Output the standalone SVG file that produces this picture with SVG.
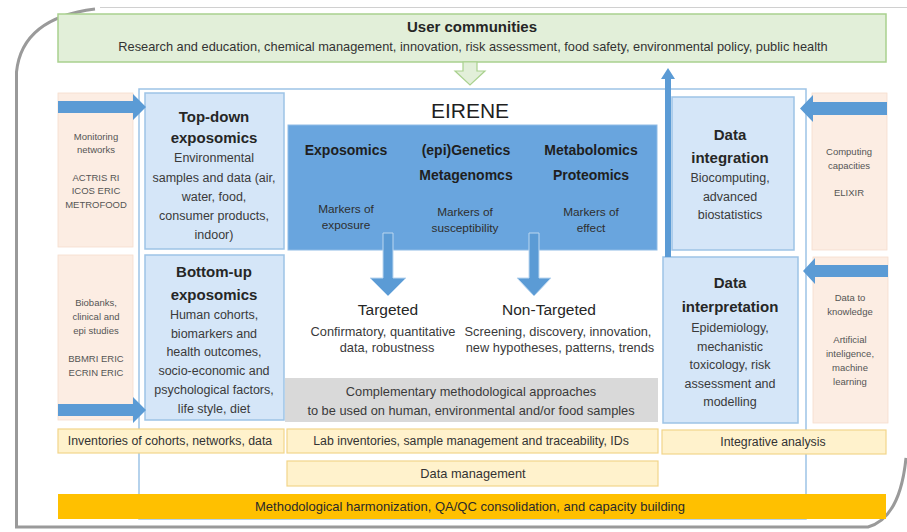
<svg xmlns="http://www.w3.org/2000/svg" width="907" height="532" viewBox="0 0 907 532">
<style>
text{font-family:"Liberation Sans",Arial,sans-serif;fill:#262626;text-anchor:middle}
.peach{fill:#fcede3;stroke:#f6ddcc;stroke-width:0.8}
.lblue{fill:#d5e6f8;stroke:#9dc3e6;stroke-width:1.5}
.yel{fill:#fff2cc;stroke:#f2d58a;stroke-width:1.2}
.arr{fill:#5b9bd5}
.arrc{fill:#5b9bd5;stroke:#bcd7f0;stroke-width:1}
.ttl{font-size:15px;font-weight:bold}
.body{font-size:12.5px;fill:#3a3a3a}
.body2{font-size:12.8px;fill:#3a3a3a}
.pt{font-size:9.5px;fill:#555}
.hd{font-size:14px;font-weight:bold;fill:#1f1f1f}
.mk{font-size:11.8px;fill:#2e2e2e}
.yt{font-size:12.3px;fill:#333}
</style>
<rect x="0" y="0" width="907" height="532" fill="#ffffff"/>
<g id="page">
<path d="M100 7.5 L907 7.5" fill="none" stroke="#d0d0d0" stroke-width="1"/>
<path d="M95 9 Q22 18 16.5 72 L16.5 527 L868 527 Q900 518 906 458" fill="none" stroke="#9a9a9a" stroke-width="3"/>
</g>
<g id="eirene-frame">
<rect x="139" y="89" width="667" height="430" fill="none" stroke="#9dc3e6" stroke-width="1.5"/>
<text x="470" y="118" style="font-size:21px;fill:#1f1f1f">EIRENE</text>
</g>
<g id="user-communities">
<rect x="58" y="14" width="828" height="48" fill="#e2efd9" stroke="#a9d18e" stroke-width="1.5"/>
<text x="472" y="32" class="ttl" style="font-size:15px">User communities</text>
<text x="473" y="51" style="font-size:12.8px;fill:#333">Research and education, chemical management, innovation, risk assessment, food safety, environmental policy, public health</text>
</g>
<g id="monitoring-networks">
<rect x="58" y="93" width="75" height="154" class="peach"/>
<text class="pt" x="96" y="140">Monitoring</text>
<text class="pt" x="96" y="153">networks</text>
<text class="pt" x="96" y="181">ACTRIS RI</text>
<text class="pt" x="96" y="194">ICOS ERIC</text>
<text class="pt" x="96" y="208">METROFOOD</text>
</g>
<g id="biobanks">
<rect x="58" y="255" width="75" height="165" class="peach"/>
<text class="pt" x="96" y="306">Biobanks,</text>
<text class="pt" x="96" y="320">clinical and</text>
<text class="pt" x="96" y="334">epi studies</text>
<text class="pt" x="96" y="362">BBMRI ERIC</text>
<text class="pt" x="96" y="376">ECRIN ERIC</text>
</g>
<g id="top-down">
<rect x="145" y="93" width="139" height="156" class="lblue"/>
<text class="ttl" x="214" y="122">Top-down</text>
<text class="ttl" x="214" y="143">exposomics</text>
<text class="body" x="214" y="162">Environmental</text>
<text class="body" x="214" y="182">samples and data (air,</text>
<text class="body" x="214" y="201">water, food,</text>
<text class="body" x="214" y="220">consumer products,</text>
<text class="body" x="214" y="239">indoor)</text>
</g>
<g id="bottom-up">
<rect x="145" y="255" width="139" height="165" class="lblue"/>
<text class="ttl" x="214" y="277">Bottom-up</text>
<text class="ttl" x="214" y="300">exposomics</text>
<text class="body" x="214" y="319">Human cohorts,</text>
<text class="body" x="214" y="338">biomarkers and</text>
<text class="body" x="214" y="356">health outcomes,</text>
<text class="body" x="214" y="375">socio-economic and</text>
<text class="body" x="214" y="394">psychological factors,</text>
<text class="body" x="214" y="413">life style, diet</text>
</g>
<g id="omics">
<rect x="288" y="125" width="369" height="125" fill="#69a5de" stroke="#8fbbe6" stroke-width="1"/>
<text class="hd" x="346" y="155">Exposomics</text>
<text class="hd" x="466" y="155">(epi)Genetics</text>
<text class="hd" x="466" y="180">Metagenomcs</text>
<text class="hd" x="591" y="155">Metabolomics</text>
<text class="hd" x="591" y="180">Proteomics</text>
<text class="mk" x="346" y="213">Markers of</text>
<text class="mk" x="346" y="229">exposure</text>
<text class="mk" x="465" y="216">Markers of</text>
<text class="mk" x="465" y="232">susceptibility</text>
<text class="mk" x="591" y="216">Markers of</text>
<text class="mk" x="591" y="232">effect</text>
</g>
<g id="targeted">
<text x="388" y="315" style="font-size:15.5px;fill:#262626">Targeted</text>
<text class="body2" x="383" y="336">Confirmatory, quantitative</text>
<text class="body2" x="387" y="352">data, robustness</text>
</g>
<g id="non-targeted">
<text x="549" y="315" style="font-size:15.5px;fill:#262626">Non-Targeted</text>
<text class="body2" x="558" y="336">Screening, discovery, innovation,</text>
<text class="body2" x="560" y="352">new hypotheses, patterns, trends</text>
</g>
<g id="complementary">
<rect x="285" y="378" width="373" height="44" fill="#d9d9d9"/>
<text class="body2" x="471" y="396">Complementary methodological approaches</text>
<text class="body2" x="471" y="415">to be used on human, environmental and/or food samples</text>
</g>
<g id="data-integration">
<rect x="672" y="97" width="122" height="153" class="lblue"/>
<text class="ttl" x="730" y="140">Data</text>
<text class="ttl" x="730" y="163">integration</text>
<text class="body" x="730" y="182">Biocomputing,</text>
<text class="body" x="730" y="201">advanced</text>
<text class="body" x="730" y="219">biostatistics</text>
</g>
<g id="computing">
<rect x="812" y="93" width="75" height="157" class="peach"/>
<text class="pt" x="849" y="155">Computing</text>
<text class="pt" x="849" y="169">capacities</text>
<text class="pt" x="849" y="196">ELIXIR</text>
</g>
<g id="data-interpretation">
<rect x="663" y="257" width="135" height="166" class="lblue"/>
<text class="ttl" x="730" y="288">Data</text>
<text class="ttl" x="730" y="312">interpretation</text>
<text class="body" x="730" y="332">Epidemiology,</text>
<text class="body" x="730" y="351">mechanistic</text>
<text class="body" x="730" y="369">toxicology, risk</text>
<text class="body" x="730" y="388">assessment and</text>
<text class="body" x="730" y="406">modelling</text>
</g>
<g id="data-to-knowledge">
<rect x="813" y="257" width="75" height="166" class="peach"/>
<text class="pt" x="850" y="301">Data to</text>
<text class="pt" x="850" y="315">knowledge</text>
<text class="pt" x="850" y="343">Artificial</text>
<text class="pt" x="850" y="357">inteligence,</text>
<text class="pt" x="850" y="371">machine</text>
<text class="pt" x="850" y="385">learning</text>
</g>
<g id="inventories">
<rect x="58" y="429" width="226" height="24" class="yel"/>
<text class="yt" x="170" y="445">Inventories of cohorts, networks, data</text>
</g>
<g id="lab-inventories">
<rect x="287" y="429" width="371" height="24" class="yel"/>
<text class="yt" x="471" y="445">Lab inventories, sample management and traceability, IDs</text>
</g>
<g id="integrative-analysis">
<rect x="662" y="430" width="224" height="24" class="yel"/>
<text class="yt" x="773" y="446">Integrative analysis</text>
</g>
<g id="data-management">
<rect x="287" y="461" width="371" height="25" class="yel"/>
<text class="yt" x="473" y="478" style="font-size:12.8px">Data management</text>
</g>
<g id="harmonization">
<rect x="58" y="494" width="828" height="25" fill="#ffc000"/>
<text x="470" y="511" style="font-size:13px;fill:#2a2a2a">Methodological harmonization, QA/QC consolidation, and capacity building</text>
</g>
<g id="connectors">
<polygon points="463,62 477,62 477,71 485,71 470,85 455,71 463,71" fill="#e2efd9" stroke="#a9d18e" stroke-width="1.2"/>
<polygon points="665,257 665,79 661,79 668,68 675,79 671,79 671,257" class="arr"/>
<polygon points="58,101 133,101 133,94 146,107 133,120 133,113 58,113" class="arr"/>
<polygon points="58,404 133,404 133,397 146,410 133,423 133,416 58,416" class="arr"/>
<polygon points="887,102 813,102 813,95 800,108.5 813,122 813,115 887,115" class="arr"/>
<polygon points="888,265 815,265 815,258 803,271 815,284 815,277 888,277" class="arr"/>
<polygon points="383,233 393,233 393,278 406,278 388,296 370,278 383,278" class="arrc"/>
<polygon points="529,233 539,233 539,278 551,278 534,296 517,278 529,278" class="arrc"/>
</g>
</svg>
